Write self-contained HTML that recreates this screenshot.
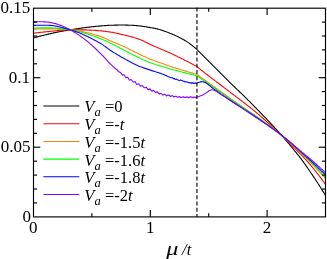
<!DOCTYPE html><html><head><meta charset="utf-8"><style>html,body{margin:0;padding:0;background:#fff}svg{display:block;will-change:transform}text{font-family:"Liberation Serif",serif;fill:#000}</style></head><body>
<svg width="327" height="259" viewBox="0 0 327 259">
<rect width="327" height="259" fill="#fff"/>
<g fill="none" stroke-width="1.1" stroke-linejoin="round">
<path stroke="#000000" d="M33.4 37.9 L34.1 37.7 L34.9 37.5 L35.6 37.3 L36.4 37.1 L37.1 36.9 L37.9 36.7 L38.6 36.5 L39.4 36.3 L40.1 36.1 L40.9 35.9 L41.6 35.7 L42.4 35.5 L43.1 35.4 L43.9 35.2 L44.6 35.0 L45.4 34.8 L46.1 34.6 L46.9 34.5 L47.6 34.3 L48.4 34.1 L49.1 33.9 L49.9 33.8 L50.6 33.6 L51.4 33.4 L52.1 33.3 L52.9 33.1 L53.6 32.9 L54.4 32.8 L55.1 32.6 L55.9 32.5 L56.6 32.3 L57.4 32.1 L58.1 32.0 L58.9 31.8 L59.6 31.7 L60.4 31.5 L61.1 31.4 L61.9 31.3 L62.6 31.1 L63.4 31.0 L64.2 30.8 L64.9 30.7 L65.7 30.6 L66.4 30.4 L67.2 30.3 L67.9 30.2 L68.7 30.1 L69.4 29.9 L70.2 29.8 L70.9 29.7 L71.7 29.6 L72.4 29.5 L73.2 29.3 L73.9 29.2 L74.7 29.1 L75.4 29.0 L76.2 28.9 L76.9 28.8 L77.7 28.7 L78.4 28.5 L79.2 28.4 L79.9 28.3 L80.7 28.2 L81.4 28.1 L82.2 28.0 L82.9 27.9 L83.7 27.8 L84.4 27.7 L85.2 27.6 L85.9 27.5 L86.7 27.4 L87.4 27.3 L88.2 27.2 L88.9 27.1 L89.7 27.1 L90.4 27.0 L91.2 26.9 L91.9 26.8 L92.7 26.7 L93.4 26.6 L94.2 26.6 L94.9 26.5 L95.7 26.4 L96.4 26.3 L97.2 26.3 L97.9 26.2 L98.7 26.1 L99.4 26.1 L100.2 26.0 L100.9 25.9 L101.7 25.9 L102.4 25.8 L103.2 25.7 L103.9 25.7 L104.7 25.6 L105.4 25.6 L106.2 25.5 L106.9 25.5 L107.7 25.4 L108.4 25.4 L109.2 25.3 L109.9 25.3 L110.7 25.2 L111.4 25.2 L112.2 25.2 L112.9 25.2 L113.7 25.2 L114.4 25.1 L115.2 25.1 L115.9 25.1 L116.7 25.1 L117.4 25.1 L118.2 25.0 L118.9 25.0 L119.7 25.0 L120.4 25.0 L121.2 25.0 L121.9 25.0 L122.7 25.0 L123.4 25.0 L124.2 25.0 L124.9 25.0 L125.7 25.1 L126.4 25.1 L127.2 25.1 L127.9 25.1 L128.7 25.2 L129.4 25.2 L130.2 25.2 L130.9 25.3 L131.7 25.3 L132.4 25.3 L133.2 25.4 L133.9 25.4 L134.7 25.5 L135.4 25.5 L136.2 25.6 L136.9 25.6 L137.7 25.7 L138.4 25.8 L139.2 25.9 L139.9 26.0 L140.7 26.0 L141.4 26.1 L142.2 26.3 L142.9 26.4 L143.7 26.5 L144.4 26.6 L145.2 26.7 L145.9 26.8 L146.7 26.9 L147.4 27.1 L148.2 27.2 L148.9 27.3 L149.7 27.4 L150.4 27.6 L151.2 27.7 L151.9 27.8 L152.7 28.0 L153.4 28.1 L154.2 28.3 L154.9 28.4 L155.7 28.6 L156.4 28.7 L157.2 28.9 L157.9 29.1 L158.7 29.3 L159.4 29.5 L160.2 29.7 L160.9 29.9 L161.7 30.2 L162.4 30.4 L163.2 30.7 L163.9 30.9 L164.7 31.2 L165.4 31.5 L166.2 31.7 L166.9 32.0 L167.7 32.3 L168.4 32.6 L169.2 32.9 L169.9 33.2 L170.7 33.5 L171.4 33.8 L172.2 34.1 L172.9 34.4 L173.7 34.7 L174.4 35.0 L175.2 35.4 L175.9 35.7 L176.7 36.1 L177.4 36.4 L178.2 36.8 L178.9 37.2 L179.7 37.6 L180.4 38.0 L181.2 38.3 L181.9 38.8 L182.7 39.2 L183.4 39.6 L184.2 40.0 L184.9 40.5 L185.7 40.9 L186.4 41.4 L187.2 41.9 L187.9 42.4 L188.7 42.9 L189.4 43.4 L190.2 44.0 L190.9 44.5 L191.7 45.1 L192.4 45.7 L193.2 46.3 L193.9 46.9 L194.7 47.5 L195.4 48.1 L196.2 48.7 L196.8 49.3 L197.6 50.0 L198.3 50.8 L199.1 51.6 L199.8 52.3 L200.6 53.1 L201.3 53.8 L202.1 54.6 L202.8 55.3 L203.6 56.1 L204.3 56.8 L205.1 57.6 L205.8 58.3 L206.6 59.1 L207.3 59.8 L208.1 60.6 L208.8 61.3 L209.6 62.1 L210.3 62.8 L211.1 63.6 L211.8 64.3 L212.6 65.1 L213.3 65.8 L214.1 66.6 L214.8 67.3 L215.6 68.0 L216.3 68.8 L217.1 69.6 L217.8 70.3 L218.6 71.1 L219.3 71.8 L220.1 72.6 L220.8 73.3 L221.6 74.1 L222.3 74.8 L223.1 75.6 L223.8 76.3 L224.6 77.1 L225.3 77.8 L226.1 78.6 L226.8 79.3 L227.6 80.1 L228.3 80.8 L229.1 81.6 L229.8 82.3 L230.6 83.1 L231.3 83.8 L232.1 84.6 L232.8 85.3 L233.6 86.0 L234.3 86.7 L235.1 87.5 L235.8 88.2 L236.6 88.9 L237.3 89.6 L238.1 90.3 L238.8 91.0 L239.6 91.8 L240.3 92.5 L241.1 93.2 L241.8 93.9 L242.6 94.6 L243.3 95.3 L244.1 96.1 L244.8 96.8 L245.6 97.5 L246.3 98.3 L247.1 99.0 L247.8 99.8 L248.6 100.5 L249.3 101.3 L250.1 102.0 L250.8 102.8 L251.6 103.5 L252.3 104.3 L253.1 105.1 L253.8 105.8 L254.6 106.6 L255.3 107.4 L256.1 108.1 L256.8 108.9 L257.6 109.7 L258.3 110.5 L259.1 111.2 L259.8 112.0 L260.6 112.8 L261.3 113.5 L262.1 114.3 L262.8 115.1 L263.6 115.9 L264.3 116.7 L265.1 117.4 L265.8 118.2 L266.6 119.0 L267.3 119.8 L268.1 120.6 L268.8 121.4 L269.6 122.2 L270.3 123.0 L271.1 123.8 L271.8 124.6 L272.6 125.4 L273.3 126.2 L274.1 127.0 L274.8 127.8 L275.6 128.6 L276.3 129.4 L277.1 130.3 L277.8 131.1 L278.6 131.9 L279.3 132.8 L280.1 133.6 L280.8 134.4 L281.6 135.3 L282.3 136.1 L283.1 137.0 L283.8 137.8 L284.6 138.7 L285.3 139.6 L286.1 140.5 L286.8 141.3 L287.6 142.2 L288.3 143.1 L289.1 144.0 L289.8 144.9 L290.6 145.8 L291.3 146.7 L292.1 147.6 L292.8 148.5 L293.6 149.5 L294.3 150.4 L295.1 151.3 L295.8 152.2 L296.6 153.1 L297.3 154.1 L298.1 155.0 L298.8 155.9 L299.6 156.9 L300.3 157.9 L301.1 158.9 L301.8 159.9 L302.6 160.9 L303.3 161.9 L304.1 163.0 L304.8 164.0 L305.6 165.1 L306.3 166.2 L307.1 167.2 L307.8 168.3 L308.6 169.4 L309.3 170.5 L310.1 171.6 L310.8 172.7 L311.6 173.8 L312.3 174.9 L313.1 176.0 L313.8 177.1 L314.6 178.3 L315.3 179.4 L316.1 180.5 L316.8 181.7 L317.6 182.8 L318.3 184.0 L319.1 185.1 L319.8 186.3 L320.6 187.5 L321.3 188.7 L322.1 189.9 L322.8 191.1 L323.6 192.3 L324.3 193.5 L325.1 194.7 L325.4 195.3"/>
<path stroke="#ff0000" d="M33.4 33.2 L34.1 33.2 L34.9 33.1 L35.6 33.0 L36.4 32.9 L37.1 32.8 L37.9 32.7 L38.6 32.6 L39.4 32.5 L40.1 32.4 L40.9 32.3 L41.6 32.3 L42.4 32.2 L43.1 32.1 L43.9 32.0 L44.6 31.9 L45.4 31.9 L46.1 31.8 L46.9 31.7 L47.6 31.6 L48.4 31.6 L49.1 31.5 L49.9 31.4 L50.6 31.3 L51.4 31.3 L52.1 31.2 L52.9 31.1 L53.6 31.0 L54.4 31.0 L55.1 30.9 L55.9 30.8 L56.6 30.7 L57.4 30.6 L58.1 30.6 L58.9 30.5 L59.6 30.4 L60.4 30.3 L61.1 30.3 L61.9 30.2 L62.6 30.1 L63.4 30.1 L64.2 30.0 L64.9 30.0 L65.7 29.9 L66.4 29.9 L67.2 29.9 L67.9 29.8 L68.7 29.8 L69.4 29.8 L70.2 29.8 L70.9 29.8 L71.7 29.8 L72.4 29.8 L73.2 29.8 L73.9 29.8 L74.7 29.8 L75.4 29.8 L76.2 29.8 L76.9 29.8 L77.7 29.8 L78.4 29.8 L79.2 29.8 L79.9 29.8 L80.7 29.9 L81.4 29.9 L82.2 29.9 L82.9 29.9 L83.7 29.9 L84.4 29.9 L85.2 29.9 L85.9 29.9 L86.7 29.9 L87.4 30.0 L88.2 30.0 L88.9 30.0 L89.7 30.1 L90.4 30.1 L91.2 30.1 L91.9 30.2 L92.7 30.2 L93.4 30.3 L94.2 30.3 L94.9 30.4 L95.7 30.4 L96.4 30.5 L97.2 30.6 L97.9 30.6 L98.7 30.7 L99.4 30.8 L100.2 30.8 L100.9 30.9 L101.7 30.9 L102.4 31.0 L103.2 31.1 L103.9 31.2 L104.7 31.3 L105.4 31.4 L106.2 31.5 L106.9 31.6 L107.7 31.7 L108.4 31.8 L109.2 31.9 L109.9 32.0 L110.7 32.1 L111.4 32.2 L112.2 32.3 L112.9 32.4 L113.7 32.6 L114.4 32.7 L115.2 32.9 L115.9 33.0 L116.7 33.2 L117.4 33.4 L118.2 33.5 L118.9 33.7 L119.7 33.9 L120.4 34.1 L121.2 34.2 L121.9 34.4 L122.7 34.6 L123.4 34.8 L124.2 35.0 L124.9 35.2 L125.7 35.4 L126.4 35.6 L127.2 35.7 L127.9 35.9 L128.7 36.1 L129.4 36.3 L130.2 36.5 L130.9 36.7 L131.7 36.9 L132.4 37.1 L133.2 37.3 L133.9 37.5 L134.7 37.7 L135.4 38.0 L136.2 38.2 L136.9 38.4 L137.7 38.7 L138.4 38.9 L139.2 39.2 L139.9 39.5 L140.7 39.7 L141.4 40.1 L142.2 40.4 L142.9 40.7 L143.7 41.1 L144.4 41.5 L145.2 41.9 L145.9 42.2 L146.7 42.6 L147.4 43.0 L148.2 43.4 L148.9 43.8 L149.7 44.1 L150.4 44.5 L151.2 44.8 L151.9 45.2 L152.7 45.5 L153.4 45.8 L154.2 46.2 L154.9 46.5 L155.7 46.8 L156.4 47.1 L157.2 47.4 L157.9 47.8 L158.7 48.1 L159.4 48.4 L160.2 48.7 L160.9 49.0 L161.7 49.4 L162.4 49.7 L163.2 50.0 L163.9 50.3 L164.7 50.6 L165.4 51.0 L166.2 51.3 L166.9 51.6 L167.7 51.9 L168.4 52.3 L169.2 52.6 L169.9 53.0 L170.7 53.3 L171.4 53.6 L172.2 54.0 L172.9 54.3 L173.7 54.7 L174.4 55.1 L175.2 55.4 L175.9 55.8 L176.7 56.1 L177.4 56.5 L178.2 56.9 L178.9 57.2 L179.7 57.6 L180.4 58.0 L181.2 58.3 L181.9 58.7 L182.7 59.1 L183.4 59.4 L184.2 59.8 L184.9 60.2 L185.7 60.6 L186.4 61.0 L187.2 61.3 L187.9 61.7 L188.7 62.1 L189.4 62.5 L190.2 62.9 L190.9 63.3 L191.7 63.7 L192.4 64.1 L193.2 64.5 L193.9 64.9 L194.7 65.3 L195.4 65.7 L196.2 66.1 L196.8 66.4 L197.6 67.0 L198.3 67.6 L199.1 68.2 L199.8 68.9 L200.6 69.5 L201.3 70.1 L202.1 70.7 L202.8 71.3 L203.6 71.9 L204.3 72.5 L205.1 73.1 L205.8 73.7 L206.6 74.3 L207.3 74.8 L208.1 75.4 L208.8 76.0 L209.6 76.6 L210.3 77.2 L211.1 77.7 L211.8 78.3 L212.6 78.9 L213.3 79.4 L214.1 80.0 L214.8 80.6 L215.6 81.1 L216.3 81.7 L217.1 82.3 L217.8 82.8 L218.6 83.4 L219.3 84.0 L220.1 84.5 L220.8 85.1 L221.6 85.7 L222.3 86.2 L223.1 86.8 L223.8 87.4 L224.6 88.0 L225.3 88.5 L226.1 89.1 L226.8 89.7 L227.6 90.2 L228.3 90.8 L229.1 91.4 L229.8 91.9 L230.6 92.5 L231.3 93.1 L232.1 93.7 L232.8 94.2 L233.6 94.8 L234.3 95.4 L235.1 95.9 L235.8 96.5 L236.6 97.1 L237.3 97.6 L238.1 98.2 L238.8 98.8 L239.6 99.3 L240.3 99.9 L241.1 100.5 L241.8 101.0 L242.6 101.6 L243.3 102.2 L244.1 102.8 L244.8 103.3 L245.6 103.9 L246.3 104.5 L247.1 105.1 L247.8 105.7 L248.6 106.2 L249.3 106.8 L250.1 107.4 L250.8 108.0 L251.6 108.6 L252.3 109.2 L253.1 109.9 L253.8 110.5 L254.6 111.1 L255.3 111.7 L256.1 112.4 L256.8 113.0 L257.6 113.6 L258.3 114.3 L259.1 114.9 L259.8 115.6 L260.6 116.2 L261.3 116.9 L262.1 117.5 L262.8 118.2 L263.6 118.8 L264.3 119.5 L265.1 120.1 L265.8 120.8 L266.6 121.5 L267.3 122.1 L268.1 122.8 L268.8 123.5 L269.6 124.2 L270.3 124.8 L271.1 125.5 L271.8 126.2 L272.6 126.9 L273.3 127.6 L274.1 128.3 L274.8 128.9 L275.6 129.6 L276.3 130.3 L277.1 131.0 L277.8 131.7 L278.6 132.4 L279.3 133.1 L280.1 133.8 L280.8 134.5 L281.6 135.2 L282.3 136.0 L283.1 136.7 L283.8 137.4 L284.6 138.1 L285.3 138.8 L286.1 139.6 L286.8 140.3 L287.6 141.1 L288.3 141.8 L289.1 142.6 L289.8 143.3 L290.6 144.1 L291.3 144.8 L292.1 145.6 L292.8 146.3 L293.6 147.1 L294.3 147.9 L295.1 148.6 L295.8 149.4 L296.6 150.2 L297.3 150.9 L298.1 151.7 L298.8 152.4 L299.6 153.2 L300.3 153.9 L301.1 154.7 L301.8 155.4 L302.6 156.2 L303.3 157.0 L304.1 157.8 L304.8 158.6 L305.6 159.4 L306.3 160.2 L307.1 161.1 L307.8 161.9 L308.6 162.8 L309.3 163.6 L310.1 164.5 L310.8 165.4 L311.6 166.3 L312.3 167.2 L313.1 168.1 L313.8 169.0 L314.6 170.0 L315.3 170.9 L316.1 171.8 L316.8 172.8 L317.6 173.7 L318.3 174.7 L319.1 175.7 L319.8 176.7 L320.6 177.7 L321.3 178.7 L322.1 179.7 L322.8 180.7 L323.6 181.8 L324.3 182.8 L325.1 183.9 L325.4 184.4"/>
<path stroke="#ff8000" d="M33.4 29.2 L34.1 29.2 L34.9 29.1 L35.6 29.1 L36.4 29.1 L37.1 29.0 L37.9 29.0 L38.6 29.0 L39.4 29.0 L40.1 29.0 L40.9 29.0 L41.6 28.9 L42.4 28.9 L43.1 28.9 L43.9 28.9 L44.6 28.9 L45.4 28.9 L46.1 28.9 L46.9 28.9 L47.6 28.9 L48.4 28.9 L49.1 28.9 L49.9 28.9 L50.6 28.9 L51.4 28.9 L52.1 28.9 L52.9 28.9 L53.6 28.9 L54.4 29.0 L55.1 29.0 L55.9 29.0 L56.6 29.0 L57.4 29.1 L58.1 29.1 L58.9 29.1 L59.6 29.1 L60.4 29.2 L61.1 29.2 L61.9 29.3 L62.6 29.3 L63.4 29.4 L64.2 29.4 L64.9 29.4 L65.7 29.5 L66.4 29.5 L67.2 29.6 L67.9 29.6 L68.7 29.7 L69.4 29.7 L70.2 29.8 L70.9 29.9 L71.7 29.9 L72.4 30.0 L73.2 30.1 L73.9 30.2 L74.7 30.2 L75.4 30.3 L76.2 30.5 L76.9 30.6 L77.7 30.7 L78.4 30.8 L79.2 30.9 L79.9 31.1 L80.7 31.2 L81.4 31.4 L82.2 31.5 L82.9 31.7 L83.7 31.9 L84.4 32.0 L85.2 32.2 L85.9 32.4 L86.7 32.6 L87.4 32.7 L88.2 32.9 L88.9 33.1 L89.7 33.3 L90.4 33.5 L91.2 33.7 L91.9 33.9 L92.7 34.1 L93.4 34.3 L94.2 34.6 L94.9 34.8 L95.7 35.0 L96.4 35.2 L97.2 35.4 L97.9 35.7 L98.7 35.9 L99.4 36.1 L100.2 36.3 L100.9 36.6 L101.7 36.9 L102.4 37.1 L103.2 37.4 L103.9 37.8 L104.7 38.1 L105.4 38.4 L106.2 38.8 L106.9 39.1 L107.7 39.5 L108.4 39.9 L109.2 40.2 L109.9 40.6 L110.7 40.9 L111.4 41.2 L112.2 41.6 L112.9 41.9 L113.7 42.2 L114.4 42.5 L115.2 42.8 L115.9 43.1 L116.7 43.4 L117.4 43.7 L118.2 44.1 L118.9 44.4 L119.7 44.7 L120.4 45.0 L121.2 45.3 L121.9 45.6 L122.7 45.9 L123.4 46.3 L124.2 46.6 L124.9 47.0 L125.7 47.3 L126.4 47.7 L127.2 48.0 L127.9 48.4 L128.7 48.8 L129.4 49.2 L130.2 49.5 L130.9 49.9 L131.7 50.3 L132.4 50.7 L133.2 51.1 L133.9 51.5 L134.7 51.9 L135.4 52.3 L136.2 52.6 L136.9 53.0 L137.7 53.4 L138.4 53.7 L139.2 54.1 L139.9 54.4 L140.7 54.8 L141.4 55.2 L142.2 55.5 L142.9 55.9 L143.7 56.2 L144.4 56.6 L145.2 56.9 L145.9 57.2 L146.7 57.6 L147.4 57.9 L148.2 58.2 L148.9 58.5 L149.7 58.9 L150.4 59.2 L151.2 59.5 L151.9 59.8 L152.7 60.0 L153.4 60.3 L154.2 60.6 L154.9 60.9 L155.7 61.2 L156.4 61.4 L157.2 61.7 L157.9 62.0 L158.7 62.2 L159.4 62.5 L160.2 62.8 L160.9 63.0 L161.7 63.3 L162.4 63.6 L163.2 63.8 L163.9 64.1 L164.7 64.4 L165.4 64.7 L166.2 64.9 L166.9 65.2 L167.7 65.5 L168.4 65.8 L169.2 66.0 L169.9 66.3 L170.7 66.5 L171.4 66.8 L172.2 67.0 L172.9 67.2 L173.7 67.5 L174.4 67.7 L175.2 67.9 L175.9 68.2 L176.7 68.4 L177.4 68.6 L178.2 68.8 L178.9 69.1 L179.7 69.3 L180.4 69.5 L181.2 69.7 L181.9 70.0 L182.7 70.2 L183.4 70.4 L184.2 70.6 L184.9 70.9 L185.7 71.1 L186.4 71.3 L187.2 71.6 L187.9 71.8 L188.7 72.0 L189.4 72.2 L190.2 72.4 L190.9 72.7 L191.7 72.9 L192.4 73.1 L193.2 73.3 L193.9 73.6 L194.7 73.8 L195.4 74.0 L196.2 74.2 L196.8 74.4 L197.6 74.9 L198.3 75.5 L199.1 76.0 L199.8 76.5 L200.6 77.1 L201.3 77.6 L202.1 78.1 L202.8 78.6 L203.6 79.2 L204.3 79.7 L205.1 80.3 L205.8 80.8 L206.6 81.3 L207.3 81.9 L208.1 82.4 L208.8 82.9 L209.6 83.5 L210.3 84.0 L211.1 84.5 L211.8 85.1 L212.6 85.6 L213.3 86.2 L214.1 86.7 L214.8 87.2 L215.6 87.8 L216.3 88.3 L217.1 88.9 L217.8 89.4 L218.6 90.0 L219.3 90.5 L220.1 91.0 L220.8 91.6 L221.6 92.1 L222.3 92.7 L223.1 93.2 L223.8 93.7 L224.6 94.3 L225.3 94.8 L226.1 95.4 L226.8 95.9 L227.6 96.5 L228.3 97.0 L229.1 97.5 L229.8 98.1 L230.6 98.6 L231.3 99.1 L232.1 99.7 L232.8 100.2 L233.6 100.7 L234.3 101.3 L235.1 101.8 L235.8 102.3 L236.6 102.8 L237.3 103.4 L238.1 103.9 L238.8 104.4 L239.6 104.9 L240.3 105.5 L241.1 106.0 L241.8 106.5 L242.6 107.0 L243.3 107.5 L244.1 108.0 L244.8 108.6 L245.6 109.1 L246.3 109.6 L247.1 110.1 L247.8 110.6 L248.6 111.1 L249.3 111.6 L250.1 112.1 L250.8 112.7 L251.6 113.2 L252.3 113.7 L253.1 114.2 L253.8 114.8 L254.6 115.3 L255.3 115.8 L256.1 116.3 L256.8 116.9 L257.6 117.4 L258.3 117.9 L259.1 118.5 L259.8 119.0 L260.6 119.5 L261.3 120.0 L262.1 120.6 L262.8 121.1 L263.6 121.6 L264.3 122.2 L265.1 122.7 L265.8 123.2 L266.6 123.8 L267.3 124.3 L268.1 124.9 L268.8 125.4 L269.6 126.0 L270.3 126.5 L271.1 127.1 L271.8 127.6 L272.6 128.2 L273.3 128.8 L274.1 129.3 L274.8 129.9 L275.6 130.5 L276.3 131.0 L277.1 131.6 L277.8 132.2 L278.6 132.8 L279.3 133.4 L280.1 134.0 L280.8 134.6 L281.6 135.2 L282.3 135.8 L283.1 136.5 L283.8 137.1 L284.6 137.7 L285.3 138.4 L286.1 139.0 L286.8 139.7 L287.6 140.3 L288.3 141.0 L289.1 141.7 L289.8 142.3 L290.6 143.0 L291.3 143.7 L292.1 144.4 L292.8 145.1 L293.6 145.8 L294.3 146.5 L295.1 147.2 L295.8 147.9 L296.6 148.6 L297.3 149.3 L298.1 150.0 L298.8 150.8 L299.6 151.5 L300.3 152.2 L301.1 152.9 L301.8 153.7 L302.6 154.4 L303.3 155.1 L304.1 155.9 L304.8 156.6 L305.6 157.4 L306.3 158.1 L307.1 158.9 L307.8 159.6 L308.6 160.4 L309.3 161.2 L310.1 161.9 L310.8 162.7 L311.6 163.5 L312.3 164.3 L313.1 165.1 L313.8 165.8 L314.6 166.6 L315.3 167.4 L316.1 168.2 L316.8 169.0 L317.6 169.8 L318.3 170.6 L319.1 171.4 L319.8 172.2 L320.6 173.1 L321.3 173.9 L322.1 174.7 L322.8 175.5 L323.6 176.4 L324.3 177.2 L325.1 178.1 L325.4 178.4"/>
<path stroke="#00ff00" d="M33.4 28.0 L34.1 28.0 L34.9 28.0 L35.6 28.0 L36.4 28.0 L37.1 27.9 L37.9 27.9 L38.6 27.9 L39.4 27.9 L40.1 27.9 L40.9 27.9 L41.6 27.9 L42.4 27.9 L43.1 27.9 L43.9 27.9 L44.6 27.9 L45.4 27.9 L46.1 27.9 L46.9 27.9 L47.6 27.9 L48.4 27.9 L49.1 27.9 L49.9 27.9 L50.6 27.9 L51.4 27.9 L52.1 27.9 L52.9 28.0 L53.6 28.0 L54.4 28.0 L55.1 28.1 L55.9 28.1 L56.6 28.2 L57.4 28.2 L58.1 28.3 L58.9 28.4 L59.6 28.5 L60.4 28.5 L61.1 28.6 L61.9 28.7 L62.6 28.8 L63.4 28.9 L64.2 29.0 L64.9 29.1 L65.7 29.2 L66.4 29.3 L67.2 29.4 L67.9 29.5 L68.7 29.6 L69.4 29.7 L70.2 29.8 L70.9 29.9 L71.7 30.0 L72.4 30.1 L73.2 30.3 L73.9 30.4 L74.7 30.6 L75.4 30.7 L76.2 30.9 L76.9 31.0 L77.7 31.2 L78.4 31.4 L79.2 31.6 L79.9 31.8 L80.7 32.0 L81.4 32.2 L82.2 32.4 L82.9 32.6 L83.7 32.8 L84.4 33.0 L85.2 33.3 L85.9 33.5 L86.7 33.7 L87.4 34.0 L88.2 34.2 L88.9 34.5 L89.7 34.7 L90.4 35.0 L91.2 35.2 L91.9 35.5 L92.7 35.7 L93.4 36.0 L94.2 36.3 L94.9 36.5 L95.7 36.8 L96.4 37.1 L97.2 37.4 L97.9 37.6 L98.7 37.9 L99.4 38.2 L100.2 38.5 L100.9 38.7 L101.7 39.0 L102.4 39.3 L103.2 39.7 L103.9 40.0 L104.7 40.3 L105.4 40.7 L106.2 41.0 L106.9 41.4 L107.7 41.8 L108.4 42.1 L109.2 42.5 L109.9 42.9 L110.7 43.2 L111.4 43.6 L112.2 44.0 L112.9 44.3 L113.7 44.7 L114.4 45.1 L115.2 45.5 L115.9 45.9 L116.7 46.2 L117.4 46.6 L118.2 47.0 L118.9 47.4 L119.7 47.8 L120.4 48.2 L121.2 48.6 L121.9 49.0 L122.7 49.4 L123.4 49.8 L124.2 50.2 L124.9 50.5 L125.7 50.9 L126.4 51.3 L127.2 51.7 L127.9 52.1 L128.7 52.5 L129.4 52.9 L130.2 53.3 L130.9 53.7 L131.7 54.1 L132.4 54.5 L133.2 54.8 L133.9 55.2 L134.7 55.6 L135.4 56.0 L136.2 56.3 L136.9 56.7 L137.7 57.1 L138.4 57.4 L139.2 57.8 L139.9 58.1 L140.7 58.5 L141.4 58.9 L142.2 59.2 L142.9 59.6 L143.7 59.9 L144.4 60.3 L145.2 60.6 L145.9 60.9 L146.7 61.3 L147.4 61.6 L148.2 61.9 L148.9 62.2 L149.7 62.5 L150.4 62.7 L151.2 63.0 L151.9 63.3 L152.7 63.5 L153.4 63.8 L154.2 64.0 L154.9 64.3 L155.7 64.5 L156.4 64.8 L157.2 65.0 L157.9 65.2 L158.7 65.4 L159.4 65.7 L160.2 65.9 L160.9 66.1 L161.7 66.3 L162.4 66.6 L163.2 66.8 L163.9 67.0 L164.7 67.2 L165.4 67.5 L166.2 67.7 L166.9 67.9 L167.7 68.1 L168.4 68.3 L169.2 68.6 L169.9 68.8 L170.7 69.0 L171.4 69.2 L172.2 69.4 L172.9 69.6 L173.7 69.8 L174.4 70.0 L175.2 70.2 L175.9 70.4 L176.7 70.6 L177.4 70.8 L178.2 71.0 L178.9 71.2 L179.7 71.4 L180.4 71.6 L181.2 71.8 L181.9 72.0 L182.7 72.2 L183.4 72.4 L184.2 72.6 L184.9 72.7 L185.7 72.9 L186.4 73.1 L187.2 73.3 L187.9 73.5 L188.7 73.7 L189.4 73.9 L190.2 74.1 L190.9 74.3 L191.7 74.4 L192.4 74.6 L193.2 74.8 L193.9 75.0 L194.7 75.2 L195.4 75.4 L196.2 75.5 L196.8 75.7 L197.6 76.2 L198.3 76.7 L199.1 77.2 L199.8 77.7 L200.6 78.2 L201.3 78.7 L202.1 79.3 L202.8 79.8 L203.6 80.3 L204.3 80.8 L205.1 81.3 L205.8 81.8 L206.6 82.3 L207.3 82.9 L208.1 83.4 L208.8 83.9 L209.6 84.4 L210.3 85.0 L211.1 85.5 L211.8 86.0 L212.6 86.5 L213.3 87.1 L214.1 87.6 L214.8 88.1 L215.6 88.7 L216.3 89.2 L217.1 89.7 L217.8 90.2 L218.6 90.8 L219.3 91.3 L220.1 91.8 L220.8 92.4 L221.6 92.9 L222.3 93.4 L223.1 94.0 L223.8 94.5 L224.6 95.0 L225.3 95.6 L226.1 96.1 L226.8 96.6 L227.6 97.2 L228.3 97.7 L229.1 98.2 L229.8 98.7 L230.6 99.3 L231.3 99.8 L232.1 100.3 L232.8 100.8 L233.6 101.3 L234.3 101.8 L235.1 102.3 L235.8 102.8 L236.6 103.3 L237.3 103.8 L238.1 104.3 L238.8 104.8 L239.6 105.3 L240.3 105.8 L241.1 106.3 L241.8 106.8 L242.6 107.3 L243.3 107.8 L244.1 108.3 L244.8 108.8 L245.6 109.3 L246.3 109.7 L247.1 110.2 L247.8 110.7 L248.6 111.2 L249.3 111.6 L250.1 112.1 L250.8 112.6 L251.6 113.1 L252.3 113.6 L253.1 114.1 L253.8 114.6 L254.6 115.1 L255.3 115.7 L256.1 116.2 L256.8 116.7 L257.6 117.2 L258.3 117.7 L259.1 118.3 L259.8 118.8 L260.6 119.3 L261.3 119.9 L262.1 120.4 L262.8 120.9 L263.6 121.5 L264.3 122.0 L265.1 122.6 L265.8 123.1 L266.6 123.7 L267.3 124.2 L268.1 124.8 L268.8 125.3 L269.6 125.9 L270.3 126.5 L271.1 127.0 L271.8 127.6 L272.6 128.2 L273.3 128.7 L274.1 129.3 L274.8 129.9 L275.6 130.5 L276.3 131.1 L277.1 131.6 L277.8 132.2 L278.6 132.8 L279.3 133.4 L280.1 134.0 L280.8 134.6 L281.6 135.2 L282.3 135.8 L283.1 136.4 L283.8 137.1 L284.6 137.7 L285.3 138.3 L286.1 138.9 L286.8 139.6 L287.6 140.2 L288.3 140.8 L289.1 141.5 L289.8 142.1 L290.6 142.8 L291.3 143.5 L292.1 144.1 L292.8 144.8 L293.6 145.5 L294.3 146.1 L295.1 146.8 L295.8 147.5 L296.6 148.2 L297.3 148.9 L298.1 149.6 L298.8 150.3 L299.6 151.0 L300.3 151.7 L301.1 152.4 L301.8 153.1 L302.6 153.8 L303.3 154.6 L304.1 155.3 L304.8 156.0 L305.6 156.7 L306.3 157.5 L307.1 158.2 L307.8 159.0 L308.6 159.7 L309.3 160.4 L310.1 161.2 L310.8 162.0 L311.6 162.7 L312.3 163.5 L313.1 164.3 L313.8 165.0 L314.6 165.8 L315.3 166.6 L316.1 167.4 L316.8 168.1 L317.6 168.9 L318.3 169.7 L319.1 170.5 L319.8 171.3 L320.6 172.1 L321.3 172.9 L322.1 173.8 L322.8 174.6 L323.6 175.4 L324.3 176.2 L325.1 177.1 L325.4 177.4"/>
<path stroke="#0000ff" d="M33.4 25.4 L34.1 25.4 L34.9 25.4 L35.6 25.4 L36.4 25.3 L37.1 25.3 L37.9 25.3 L38.6 25.3 L39.4 25.3 L40.1 25.3 L40.9 25.3 L41.6 25.3 L42.4 25.3 L43.1 25.3 L43.9 25.3 L44.6 25.3 L45.4 25.3 L46.1 25.3 L46.9 25.3 L47.6 25.3 L48.4 25.3 L49.1 25.3 L49.9 25.4 L50.6 25.4 L51.4 25.5 L52.1 25.5 L52.9 25.6 L53.6 25.7 L54.4 25.8 L55.1 26.0 L55.9 26.1 L56.6 26.3 L57.4 26.4 L58.1 26.6 L58.9 26.7 L59.6 26.9 L60.4 27.1 L61.1 27.3 L61.9 27.5 L62.6 27.7 L63.4 27.9 L64.2 28.1 L64.9 28.3 L65.7 28.5 L66.4 28.7 L67.2 28.9 L67.9 29.2 L68.7 29.4 L69.4 29.6 L70.2 29.8 L70.9 30.0 L71.7 30.2 L72.4 30.4 L73.2 30.7 L73.9 30.9 L74.7 31.2 L75.4 31.4 L76.2 31.7 L76.9 32.0 L77.7 32.2 L78.4 32.5 L79.2 32.8 L79.9 33.1 L80.7 33.4 L81.4 33.7 L82.2 34.1 L82.9 34.4 L83.7 34.7 L84.4 35.1 L85.2 35.4 L85.9 35.8 L86.7 36.1 L87.4 36.5 L88.2 36.8 L88.9 37.2 L89.7 37.6 L90.4 38.0 L91.2 38.3 L91.9 38.7 L92.7 39.1 L93.4 39.5 L94.2 39.9 L94.9 40.3 L95.7 40.7 L96.4 41.1 L97.2 41.5 L97.9 41.9 L98.7 42.3 L99.4 42.8 L100.2 43.2 L100.9 43.6 L101.7 44.1 L102.4 44.6 L103.2 45.1 L103.9 45.6 L104.7 46.1 L105.4 46.7 L106.2 47.2 L106.9 47.8 L107.7 48.4 L108.4 48.9 L109.2 49.5 L109.9 50.0 L110.7 50.5 L111.4 51.0 L112.2 51.5 L112.9 52.0 L113.7 52.4 L114.4 52.9 L115.2 53.4 L115.9 53.8 L116.7 54.3 L117.4 54.7 L118.2 55.1 L118.9 55.6 L119.7 56.0 L120.4 56.4 L121.2 56.9 L121.9 57.3 L122.7 57.7 L123.4 58.1 L124.2 58.5 L124.9 58.9 L125.7 59.4 L126.4 59.8 L127.2 60.2 L127.9 60.6 L128.7 61.0 L129.4 61.4 L130.2 61.8 L130.9 62.3 L131.7 62.7 L132.4 63.1 L133.2 63.4 L133.9 63.8 L134.7 64.2 L135.4 64.6 L136.2 64.9 L136.9 65.2 L137.7 65.6 L138.4 65.9 L139.2 66.2 L139.9 66.5 L140.7 66.8 L141.4 67.0 L142.2 67.3 L142.9 67.6 L143.7 67.9 L144.4 68.1 L145.2 68.4 L145.9 68.6 L146.7 68.9 L147.4 69.1 L148.2 69.4 L148.9 69.6 L149.7 69.9 L150.4 70.1 L151.2 70.4 L151.9 70.6 L152.7 70.9 L153.4 71.1 L154.2 71.3 L154.9 71.5 L155.7 71.8 L156.4 72.0 L157.2 72.2 L157.9 72.4 L158.7 72.7 L159.4 72.9 L160.2 73.2 L160.9 73.4 L161.7 73.7 L162.4 74.0 L163.2 74.3 L163.9 74.6 L164.7 74.9 L165.4 75.3 L166.2 75.6 L166.9 76.0 L167.7 76.3 L168.4 76.7 L169.2 77.0 L169.9 77.3 L170.7 77.5 L171.4 77.8 L172.2 77.7 L172.9 78.3 L173.7 78.8 L174.4 78.5 L175.2 79.3 L175.9 79.5 L176.7 79.1 L177.4 79.6 L178.2 80.1 L178.9 80.3 L179.7 80.5 L180.4 80.1 L181.2 80.3 L181.9 80.5 L182.7 80.7 L183.4 81.2 L184.2 81.2 L184.9 82.0 L185.7 81.9 L186.4 81.8 L187.2 82.0 L187.9 82.2 L188.7 82.6 L189.4 82.7 L190.2 83.1 L190.9 82.6 L191.7 83.2 L192.4 82.7 L193.2 83.4 L193.9 83.1 L194.7 83.4 L195.4 82.9 L196.2 83.5 L196.8 83.2 L197.6 82.8 L198.3 82.5 L199.1 82.2 L199.8 82.1 L200.6 81.9 L201.3 81.9 L202.1 81.8 L202.8 81.8 L203.6 81.9 L204.3 82.1 L205.1 82.3 L205.8 82.7 L206.6 83.2 L207.3 83.8 L208.1 84.4 L208.8 85.0 L209.6 85.6 L210.3 86.2 L211.1 86.9 L211.8 87.5 L212.6 88.0 L213.3 88.6 L214.1 89.1 L214.8 89.7 L215.6 90.2 L216.3 90.7 L217.1 91.3 L217.8 91.8 L218.6 92.3 L219.3 92.8 L220.1 93.3 L220.8 93.9 L221.6 94.4 L222.3 94.9 L223.1 95.4 L223.8 95.9 L224.6 96.4 L225.3 96.9 L226.1 97.5 L226.8 98.0 L227.6 98.5 L228.3 99.0 L229.1 99.5 L229.8 100.0 L230.6 100.5 L231.3 101.0 L232.1 101.5 L232.8 102.0 L233.6 102.5 L234.3 103.0 L235.1 103.5 L235.8 104.0 L236.6 104.5 L237.3 105.0 L238.1 105.5 L238.8 106.0 L239.6 106.4 L240.3 106.9 L241.1 107.4 L241.8 107.9 L242.6 108.4 L243.3 108.9 L244.1 109.4 L244.8 109.9 L245.6 110.4 L246.3 110.9 L247.1 111.3 L247.8 111.8 L248.6 112.3 L249.3 112.8 L250.1 113.3 L250.8 113.8 L251.6 114.3 L252.3 114.8 L253.1 115.3 L253.8 115.8 L254.6 116.3 L255.3 116.8 L256.1 117.3 L256.8 117.8 L257.6 118.3 L258.3 118.8 L259.1 119.3 L259.8 119.8 L260.6 120.3 L261.3 120.8 L262.1 121.3 L262.8 121.8 L263.6 122.3 L264.3 122.9 L265.1 123.4 L265.8 123.9 L266.6 124.4 L267.3 124.9 L268.1 125.4 L268.8 125.9 L269.6 126.5 L270.3 127.0 L271.1 127.5 L271.8 128.0 L272.6 128.6 L273.3 129.1 L274.1 129.6 L274.8 130.2 L275.6 130.7 L276.3 131.3 L277.1 131.8 L277.8 132.4 L278.6 132.9 L279.3 133.5 L280.1 134.1 L280.8 134.6 L281.6 135.2 L282.3 135.8 L283.1 136.4 L283.8 137.0 L284.6 137.6 L285.3 138.2 L286.1 138.8 L286.8 139.4 L287.6 140.1 L288.3 140.7 L289.1 141.3 L289.8 142.0 L290.6 142.6 L291.3 143.2 L292.1 143.9 L292.8 144.5 L293.6 145.2 L294.3 145.8 L295.1 146.5 L295.8 147.2 L296.6 147.8 L297.3 148.5 L298.1 149.2 L298.8 149.8 L299.6 150.5 L300.3 151.2 L301.1 151.8 L301.8 152.5 L302.6 153.2 L303.3 153.8 L304.1 154.5 L304.8 155.2 L305.6 155.9 L306.3 156.6 L307.1 157.3 L307.8 158.0 L308.6 158.6 L309.3 159.3 L310.1 160.0 L310.8 160.7 L311.6 161.4 L312.3 162.1 L313.1 162.8 L313.8 163.5 L314.6 164.3 L315.3 165.0 L316.1 165.7 L316.8 166.4 L317.6 167.1 L318.3 167.8 L319.1 168.6 L319.8 169.3 L320.6 170.0 L321.3 170.8 L322.1 171.5 L322.8 172.2 L323.6 173.0 L324.3 173.7 L325.1 174.4 L325.4 174.8"/>
<path stroke="#8000ff" d="M33.4 22.0 L33.9 22.0 L34.3 21.9 L34.8 21.9 L35.2 21.9 L35.7 21.9 L36.1 21.9 L36.6 21.8 L37.0 21.8 L37.5 21.8 L37.9 21.8 L38.4 21.8 L38.8 21.8 L39.3 21.8 L39.7 21.8 L40.2 21.8 L40.6 21.8 L41.1 21.8 L41.5 21.8 L42.0 21.8 L42.4 21.8 L42.9 21.8 L43.3 21.8 L43.8 21.9 L44.2 21.9 L44.7 21.9 L45.1 21.9 L45.6 21.9 L46.0 22.0 L46.5 22.0 L46.9 22.0 L47.4 22.0 L47.8 22.1 L48.3 22.1 L48.7 22.2 L49.2 22.2 L49.6 22.3 L50.1 22.4 L50.5 22.5 L51.0 22.6 L51.4 22.7 L51.9 22.8 L52.3 22.9 L52.8 23.0 L53.2 23.1 L53.7 23.2 L54.1 23.3 L54.6 23.4 L55.0 23.5 L55.5 23.6 L55.9 23.8 L56.4 23.9 L56.8 24.0 L57.3 24.2 L57.7 24.3 L58.2 24.4 L58.6 24.6 L59.1 24.7 L59.5 24.9 L60.0 25.1 L60.4 25.2 L60.9 25.4 L61.3 25.6 L61.8 25.8 L62.2 25.9 L62.7 26.1 L63.1 26.3 L63.6 26.5 L64.0 26.7 L64.5 26.9 L64.9 27.1 L65.4 27.3 L65.8 27.5 L66.3 27.7 L66.7 28.0 L67.2 28.2 L67.6 28.4 L68.1 28.6 L68.5 28.9 L69.0 29.1 L69.4 29.4 L69.9 29.6 L70.3 29.9 L70.8 30.1 L71.2 30.4 L71.7 30.6 L72.1 30.9 L72.6 31.1 L73.0 31.4 L73.5 31.7 L73.9 31.9 L74.4 32.2 L74.8 32.5 L75.3 32.8 L75.7 33.1 L76.2 33.3 L76.6 33.6 L77.1 33.9 L77.5 34.2 L78.0 34.5 L78.4 34.8 L78.9 35.1 L79.3 35.4 L79.8 35.7 L80.2 36.0 L80.7 36.3 L81.1 36.7 L81.6 37.0 L82.0 37.3 L82.5 37.6 L82.9 37.9 L83.4 38.3 L83.8 38.6 L84.3 38.9 L84.7 39.3 L85.2 39.6 L85.6 40.0 L86.1 40.3 L86.5 40.7 L87.0 41.0 L87.4 41.4 L87.9 41.8 L88.3 42.1 L88.8 42.5 L89.2 42.9 L89.7 43.3 L90.1 43.7 L90.6 44.1 L91.0 44.5 L91.5 44.9 L91.9 45.3 L92.4 45.7 L92.8 46.1 L93.3 46.5 L93.7 47.0 L94.2 47.4 L94.6 47.8 L95.1 48.2 L95.5 48.7 L96.0 49.1 L96.4 49.5 L96.9 50.0 L97.3 50.4 L97.8 50.8 L98.2 51.3 L98.7 51.7 L99.1 52.1 L99.6 52.6 L100.0 53.0 L100.5 53.4 L100.9 53.9 L101.4 54.3 L101.8 54.8 L102.3 55.3 L102.7 55.7 L103.2 56.2 L103.6 56.7 L104.1 57.2 L104.5 57.7 L105.0 58.2 L105.4 58.7 L105.9 59.2 L106.3 59.6 L106.8 60.1 L107.2 60.6 L107.7 61.1 L108.1 61.6 L108.6 62.1 L109.0 62.5 L109.5 63.0 L109.9 63.5 L110.4 63.9 L110.8 64.4 L111.3 64.8 L111.7 65.2 L112.2 65.6 L112.6 66.1 L113.1 66.5 L113.5 66.9 L114.0 67.3 L114.4 67.7 L114.9 68.1 L115.3 68.5 L115.8 68.9 L116.2 69.2 L116.7 69.2 L117.1 70.0 L117.6 70.3 L118.0 71.2 L118.5 71.2 L118.9 71.8 L119.4 72.1 L119.8 72.2 L120.3 72.2 L120.7 73.0 L121.2 73.1 L121.6 74.0 L122.1 74.7 L122.5 75.2 L123.0 74.9 L123.4 74.8 L123.9 74.7 L124.3 75.3 L124.8 75.8 L125.2 76.7 L125.7 77.6 L126.1 77.8 L126.6 77.6 L127.0 77.3 L127.5 77.3 L127.9 77.5 L128.4 78.4 L128.8 79.2 L129.3 80.1 L129.7 80.3 L130.2 80.1 L130.6 79.7 L131.1 79.8 L131.5 79.7 L132.0 80.5 L132.4 81.0 L132.9 81.7 L133.3 82.2 L133.8 82.0 L134.2 82.0 L134.7 82.0 L135.1 81.7 L135.6 82.4 L136.0 83.3 L136.5 84.1 L136.9 84.5 L137.4 84.3 L137.8 84.0 L138.3 84.0 L138.7 83.8 L139.2 84.5 L139.6 85.0 L140.1 85.5 L140.5 86.3 L141.0 86.1 L141.4 85.8 L141.9 85.7 L142.3 85.7 L142.8 85.7 L143.2 86.6 L143.7 87.0 L144.1 87.8 L144.6 87.8 L145.0 87.8 L145.5 87.7 L145.9 87.2 L146.4 87.3 L146.8 88.0 L147.3 88.6 L147.7 89.2 L148.2 89.6 L148.6 89.2 L149.1 89.4 L149.5 89.0 L150.0 88.9 L150.4 89.3 L150.9 90.1 L151.3 90.6 L151.8 91.2 L152.2 91.2 L152.7 90.7 L153.1 90.5 L153.6 90.4 L154.0 90.9 L154.5 91.4 L154.9 91.7 L155.4 92.4 L155.8 92.4 L156.3 92.0 L156.7 92.2 L157.2 91.8 L157.6 92.0 L158.1 92.8 L158.5 93.4 L159.0 93.6 L159.4 94.0 L159.9 93.6 L160.3 93.6 L160.8 93.2 L161.2 93.6 L161.7 93.9 L162.1 94.3 L162.6 95.0 L163.0 95.0 L163.5 94.7 L163.9 94.4 L164.4 94.3 L164.8 94.6 L165.3 94.6 L165.7 94.9 L166.2 95.4 L166.6 95.9 L167.1 95.7 L167.5 95.3 L168.0 95.1 L168.4 95.1 L168.9 95.5 L169.3 95.7 L169.8 95.6 L170.2 96.3 L170.7 96.5 L171.1 96.0 L171.6 96.0 L172.0 95.5 L172.5 95.9 L172.9 96.1 L173.4 96.4 L173.8 96.9 L174.3 96.8 L174.7 96.5 L175.2 96.3 L175.6 96.3 L176.1 96.4 L176.5 96.5 L177.0 96.9 L177.4 97.1 L177.9 97.2 L178.3 97.2 L178.8 96.7 L179.2 97.0 L179.7 96.7 L180.1 97.2 L180.6 97.0 L181.0 97.5 L181.5 97.5 L181.9 97.3 L182.4 97.2 L182.8 96.9 L183.3 96.7 L183.7 97.1 L184.2 97.1 L184.6 97.3 L185.1 97.5 L185.5 97.3 L186.0 97.4 L186.4 97.0 L186.9 96.8 L187.3 97.0 L187.8 97.2 L188.2 97.5 L188.7 97.8 L189.1 97.1 L189.6 97.1 L190.0 97.1 L190.5 96.9 L190.9 97.0 L191.4 97.3 L191.8 97.1 L192.3 97.5 L192.7 97.6 L193.2 97.3 L193.6 97.4 L194.1 97.0 L194.5 97.1 L195.0 97.2 L195.4 97.2 L195.9 97.7 L196.3 97.1 L196.8 97.5 L196.8 97.2 L197.6 96.9 L198.3 96.7 L199.1 96.4 L199.8 96.1 L200.6 95.8 L201.3 95.5 L202.1 95.2 L202.8 94.9 L203.6 94.5 L204.3 94.1 L205.1 93.6 L205.8 93.1 L206.6 92.6 L207.3 92.0 L208.1 91.5 L208.8 91.0 L209.6 90.6 L210.3 90.2 L211.1 90.0 L211.8 89.8 L212.6 89.8 L213.3 90.0 L214.1 90.2 L214.8 90.5 L215.6 90.8 L216.3 91.3 L217.1 91.8 L217.8 92.3 L218.6 92.8 L219.3 93.4 L220.1 93.8 L220.8 94.3 L221.6 94.8 L222.3 95.2 L223.1 95.7 L223.8 96.2 L224.6 96.6 L225.3 97.1 L226.1 97.6 L226.8 98.1 L227.6 98.6 L228.3 99.1 L229.1 99.6 L229.8 100.0 L230.6 100.5 L231.3 101.0 L232.1 101.5 L232.8 102.0 L233.6 102.5 L234.3 103.0 L235.1 103.5 L235.8 103.9 L236.6 104.4 L237.3 104.9 L238.1 105.4 L238.8 105.9 L239.6 106.4 L240.3 106.9 L241.1 107.4 L241.8 107.9 L242.6 108.4 L243.3 108.9 L244.1 109.4 L244.8 109.9 L245.6 110.4 L246.3 110.9 L247.1 111.3 L247.8 111.8 L248.6 112.3 L249.3 112.8 L250.1 113.3 L250.8 113.8 L251.6 114.3 L252.3 114.8 L253.1 115.3 L253.8 115.8 L254.6 116.3 L255.3 116.8 L256.1 117.3 L256.8 117.8 L257.6 118.3 L258.3 118.8 L259.1 119.3 L259.8 119.8 L260.6 120.3 L261.3 120.8 L262.1 121.3 L262.8 121.9 L263.6 122.4 L264.3 122.9 L265.1 123.4 L265.8 123.9 L266.6 124.4 L267.3 124.9 L268.1 125.4 L268.8 126.0 L269.6 126.5 L270.3 127.0 L271.1 127.5 L271.8 128.1 L272.6 128.6 L273.3 129.1 L274.1 129.7 L274.8 130.2 L275.6 130.7 L276.3 131.3 L277.1 131.8 L277.8 132.4 L278.6 132.9 L279.3 133.5 L280.1 134.1 L280.8 134.6 L281.6 135.2 L282.3 135.8 L283.1 136.4 L283.8 137.0 L284.6 137.6 L285.3 138.2 L286.1 138.8 L286.8 139.4 L287.6 140.1 L288.3 140.7 L289.1 141.3 L289.8 142.0 L290.6 142.6 L291.3 143.3 L292.1 143.9 L292.8 144.5 L293.6 145.2 L294.3 145.8 L295.1 146.5 L295.8 147.1 L296.6 147.8 L297.3 148.4 L298.1 149.0 L298.8 149.6 L299.6 150.3 L300.3 150.9 L301.1 151.5 L301.8 152.1 L302.6 152.7 L303.3 153.3 L304.1 153.9 L304.8 154.5 L305.6 155.1 L306.3 155.7 L307.1 156.3 L307.8 156.9 L308.6 157.5 L309.3 158.2 L310.1 158.8 L310.8 159.4 L311.6 160.1 L312.3 160.7 L313.1 161.4 L313.8 162.0 L314.6 162.7 L315.3 163.4 L316.1 164.0 L316.8 164.7 L317.6 165.4 L318.3 166.1 L319.1 166.7 L319.8 167.4 L320.6 168.1 L321.3 168.8 L322.1 169.5 L322.8 170.2 L323.6 170.9 L324.3 171.6 L325.1 172.3 L325.4 172.7"/>
</g>
<line x1="196.95" y1="7.44" x2="196.95" y2="216.8" stroke="#111" stroke-width="1.2" stroke-dasharray="4 2.26"/>
<g stroke="#000" stroke-width="1.15" fill="none">
<rect x="33.5" y="8.2" width="292.0" height="208.7"/>
<line x1="91.9" y1="216.8" x2="91.9" y2="213.2"/>
<line x1="91.9" y1="8.2" x2="91.9" y2="11.8"/>
<line x1="150.3" y1="216.8" x2="150.3" y2="210.0"/>
<line x1="150.3" y1="8.2" x2="150.3" y2="14.9"/>
<line x1="208.7" y1="216.8" x2="208.7" y2="213.2"/>
<line x1="208.7" y1="8.2" x2="208.7" y2="11.8"/>
<line x1="267.1" y1="216.8" x2="267.1" y2="210.0"/>
<line x1="267.1" y1="8.2" x2="267.1" y2="14.9"/>
<line x1="33.5" y1="202.9" x2="37.1" y2="202.9"/>
<line x1="325.5" y1="202.9" x2="321.9" y2="202.9"/>
<line x1="33.5" y1="189.0" x2="37.1" y2="189.0"/>
<line x1="325.5" y1="189.0" x2="321.9" y2="189.0"/>
<line x1="33.5" y1="175.1" x2="37.1" y2="175.1"/>
<line x1="325.5" y1="175.1" x2="321.9" y2="175.1"/>
<line x1="33.5" y1="161.2" x2="37.1" y2="161.2"/>
<line x1="325.5" y1="161.2" x2="321.9" y2="161.2"/>
<line x1="33.5" y1="147.2" x2="40.3" y2="147.2"/>
<line x1="325.5" y1="147.2" x2="318.7" y2="147.2"/>
<line x1="33.5" y1="133.3" x2="37.1" y2="133.3"/>
<line x1="325.5" y1="133.3" x2="321.9" y2="133.3"/>
<line x1="33.5" y1="119.4" x2="37.1" y2="119.4"/>
<line x1="325.5" y1="119.4" x2="321.9" y2="119.4"/>
<line x1="33.5" y1="105.5" x2="37.1" y2="105.5"/>
<line x1="325.5" y1="105.5" x2="321.9" y2="105.5"/>
<line x1="33.5" y1="91.6" x2="37.1" y2="91.6"/>
<line x1="325.5" y1="91.6" x2="321.9" y2="91.6"/>
<line x1="33.5" y1="77.7" x2="40.3" y2="77.7"/>
<line x1="325.5" y1="77.7" x2="318.7" y2="77.7"/>
<line x1="33.5" y1="63.8" x2="37.1" y2="63.8"/>
<line x1="325.5" y1="63.8" x2="321.9" y2="63.8"/>
<line x1="33.5" y1="49.9" x2="37.1" y2="49.9"/>
<line x1="325.5" y1="49.9" x2="321.9" y2="49.9"/>
<line x1="33.5" y1="36.0" x2="37.1" y2="36.0"/>
<line x1="325.5" y1="36.0" x2="321.9" y2="36.0"/>
<line x1="33.5" y1="22.1" x2="37.1" y2="22.1"/>
<line x1="325.5" y1="22.1" x2="321.9" y2="22.1"/>
</g>
<g font-size="17">
<text x="30.3" y="12.7" text-anchor="end">0.15</text>
<text x="30" y="82.9" text-anchor="end">0.1</text>
<text x="30.5" y="152.4" text-anchor="end">0.05</text>
<text x="31" y="221.6" text-anchor="end">0</text>
<text x="33.2" y="233" text-anchor="middle">0</text>
<text x="150.2" y="233" text-anchor="middle">1</text>
<text x="267" y="233" text-anchor="middle">2</text>
</g>
<text transform="translate(166.3,255) scale(1.27,1)" font-size="19" font-style="italic">μ</text>
<text x="182.1" y="255" font-size="16.5" font-style="italic">/t</text>
<line x1="43.4" y1="106.00" x2="79.3" y2="106.00" stroke="#000000" stroke-width="1.05"/>
<text x="84.2" y="112.4" font-size="16.5"><tspan font-style="italic">V</tspan><tspan font-style="italic" font-size="12.5" dy="4" dx="0.3">a</tspan><tspan dy="-4" dx="4.2">=0</tspan></text>
<line x1="43.4" y1="123.70" x2="79.3" y2="123.70" stroke="#ff0000" stroke-width="1.05"/>
<text x="84.2" y="130.1" font-size="16.5"><tspan font-style="italic">V</tspan><tspan font-style="italic" font-size="12.5" dy="4" dx="0.3">a</tspan><tspan dy="-4" dx="4.2">=-<tspan font-style="italic">t</tspan></tspan></text>
<line x1="43.4" y1="141.40" x2="79.3" y2="141.40" stroke="#ff8000" stroke-width="1.05"/>
<text x="84.2" y="147.8" font-size="16.5"><tspan font-style="italic">V</tspan><tspan font-style="italic" font-size="12.5" dy="4" dx="0.3">a</tspan><tspan dy="-4" dx="4.2">=-1.5<tspan font-style="italic">t</tspan></tspan></text>
<line x1="43.4" y1="159.10" x2="79.3" y2="159.10" stroke="#00ff00" stroke-width="1.05"/>
<text x="84.2" y="165.5" font-size="16.5"><tspan font-style="italic">V</tspan><tspan font-style="italic" font-size="12.5" dy="4" dx="0.3">a</tspan><tspan dy="-4" dx="4.2">=-1.6<tspan font-style="italic">t</tspan></tspan></text>
<line x1="43.4" y1="176.80" x2="79.3" y2="176.80" stroke="#0000ff" stroke-width="1.05"/>
<text x="84.2" y="183.2" font-size="16.5"><tspan font-style="italic">V</tspan><tspan font-style="italic" font-size="12.5" dy="4" dx="0.3">a</tspan><tspan dy="-4" dx="4.2">=-1.8<tspan font-style="italic">t</tspan></tspan></text>
<line x1="43.4" y1="194.50" x2="79.3" y2="194.50" stroke="#8000ff" stroke-width="1.05"/>
<text x="84.2" y="200.9" font-size="16.5"><tspan font-style="italic">V</tspan><tspan font-style="italic" font-size="12.5" dy="4" dx="0.3">a</tspan><tspan dy="-4" dx="4.2">=-2<tspan font-style="italic">t</tspan></tspan></text>
</svg></body></html>
